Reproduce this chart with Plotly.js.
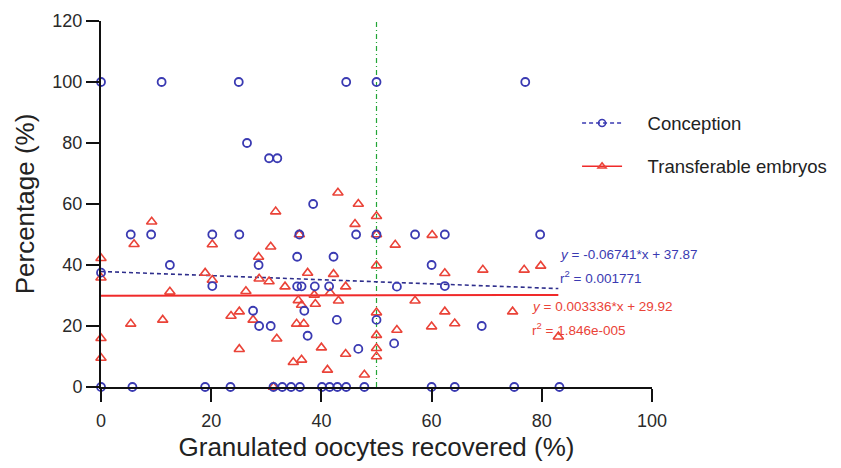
<!DOCTYPE html>
<html>
<head>
<meta charset="utf-8">
<script src="https://cdn.plot.ly/plotly-3.0.1.min.js"></script>
<style>html,body{margin:0;padding:0;background:#fff;}#chart{width:841px;height:468px;}</style>
</head>
<body>
<div id="chart"></div>
<script>
// Conception (%) vs granulated oocytes recovered (%)
var conceptionX = [0, 11, 25, 44.5, 50, 77,
  26.5, 30.5, 32, 38.5,
  5.4, 9.1, 20.2, 25.1, 36, 46.3, 50, 57, 62.4, 79.7,
  35.6, 42.2, 12.5, 28.6, 60, 0,
  20.2, 35.6, 36.4, 38.8, 41.4, 53.7, 62.4,
  27.6, 36.9, 42.8, 50, 28.7, 30.8, 69.1,
  37.5, 53.2, 46.7,
  0, 5.7, 18.9, 23.5, 31.3, 32.9, 34.5, 36.1, 40.1, 41.5, 42.9, 44.5, 47.8, 60, 64.2, 75, 83.2];
var conceptionY = [100, 100, 100, 100, 100, 100,
  80, 75, 75, 60,
  50, 50, 50, 50, 50, 50, 50, 50, 50, 50,
  42.7, 42.7, 40, 40, 40, 37.5,
  33.1, 33, 33, 33, 33, 32.9, 33.1,
  25, 25, 22, 22, 20, 20, 20,
  16.8, 14.3, 12.5,
  0, 0, 0, 0, 0, 0, 0, 0, 0, 0, 0, 0, 0, 0, 0, 0, 0];

// Transferable embryos (%) vs granulated oocytes recovered (%)
var embryosX = [0, 0, 0, 0,
  5.4, 6, 9.2, 11.2, 12.5,
  18.9, 20.2, 20.2,
  23.6, 25.1, 25.1, 26.3, 27.6,
  28.6, 28.7, 30.5, 30.8, 31.7, 31.9, 31.3,
  33.4, 34.9, 35.5, 35.8, 36, 36.4, 36.4, 36.8,
  37.5, 38.7, 38.9, 40, 41.1, 41.6,
  42.2, 43, 43.1, 44.4, 44.4, 46.1, 46.7, 47.8,
  50, 50, 50, 50, 50, 50, 50,
  53.4, 53.7, 57, 60.1, 60, 62.4, 62.4, 64.2,
  69.3, 74.7, 76.8, 79.8, 83];
var embryosY = [42.2, 35.8, 16, 9.5,
  20.7, 46.8, 54.2, 22, 31.2,
  37.4, 46.7, 35.1,
  23.3, 24.7, 12.4, 31.4, 22,
  42.6, 35.5, 34.6, 46, 57.5, 15.8, 0,
  32.9, 8.1, 20.7, 28.4, 50, 26.9, 8.9, 20.7,
  37.4, 30.2, 27.2, 12.9, 5.6, 30.8,
  37, 63.7, 28.3, 32.9, 10.8, 53.4, 60, 4,
  56, 50, 39.8, 24.4, 17, 12.7, 10,
  46.6, 18.7, 28.3, 49.8, 19.8, 37.3, 24.7, 20.8,
  38.4, 24.7, 38.4, 39.7, 16.5];

// Linear fits
var fitRange = [0, 83];
var conceptionSlope = -0.06741, conceptionIntercept = 37.87;
var embryosSlope = 0.003336, embryosIntercept = 29.92;
var conceptionEq = ["<i>y</i> = -0.06741*x + 37.87", "r<sup>2</sup> = 0.001771"];
var embryosEq = ["<i>y</i> = 0.003336*x + 29.92", "r<sup>2</sup> = 1.846e-005"];

// Reference line
var refX = 50;
var yRange = [0, 120];
var xTicks = [0, 20, 40, 60, 80, 100];
var yTicks = [0, 20, 40, 60, 80, 100, 120];

var BLUE = '#3a3ab2', RED = '#ea4338', FIT_BLUE = '#2e2e8c', FIT_RED = '#f02a2a', GREEN = '#22a536';
var FONT = 'Liberation Sans, Arial, sans-serif';

function fitY(m, b) { return fitRange.map(function (x) { return m * x + b; }); }

var traces = [
  { x: [refX, refX], y: yRange, mode: 'lines', line: { color: GREEN, width: 1.2, dash: '5px,3px,1px,3px' }, showlegend: false, hoverinfo: 'skip' },
  { x: fitRange, y: fitY(embryosSlope, embryosIntercept), mode: 'lines', line: { color: FIT_RED, width: 2 }, showlegend: false },
  { x: fitRange, y: fitY(conceptionSlope, conceptionIntercept), mode: 'lines', line: { color: FIT_BLUE, width: 1.6, dash: '4px,3px' }, showlegend: false },
  { x: embryosX, y: embryosY, mode: 'markers', cliponaxis: false, showlegend: false,
    marker: { symbol: 'triangle-up-open', size: 9, color: RED, line: { width: 1.6, color: RED } } },
  { x: conceptionX, y: conceptionY, mode: 'markers', cliponaxis: false, showlegend: false,
    marker: { symbol: 'circle-open', size: 8, color: BLUE, line: { width: 1.8, color: BLUE } } },
  { x: [null], y: [null], name: '\u00a0\u00a0\u00a0\u00a0Conception', mode: 'lines+markers', legend: 'legend',
    line: { color: BLUE, width: 1.6, dash: '4px,3px' }, marker: { symbol: 'circle-open', size: 7, color: BLUE, line: { width: 1.6 } } },
  { x: [null], y: [null], name: '\u00a0\u00a0\u00a0\u00a0Transferable embryos', mode: 'lines+markers', legend: 'legend2',
    line: { color: FIT_RED, width: 1.6 }, marker: { symbol: 'triangle-up-open', size: 7, color: RED, line: { width: 1.6 } } }
];

function ann(x, y, text, color) {
  return { x: x, y: y, xref: 'x', yref: 'y', text: text, showarrow: false, xanchor: 'left', yanchor: 'middle',
    font: { family: FONT, size: 13.5, color: color } };
}

var layout = {
  width: 841, height: 468,
  margin: { l: 101, r: 189, t: 21, b: 81, autoexpand: false },
  paper_bgcolor: '#fff', plot_bgcolor: '#fff',
  font: { family: FONT, color: '#222' },
  showlegend: true,
  xaxis: {
    range: [0, 100], tickvals: xTicks, ticktext: xTicks.map(String),
    showgrid: false, zeroline: false, showline: true, linecolor: '#111', linewidth: 2,
    ticks: 'outside', ticklen: 13, tickwidth: 2, tickcolor: '#111', ticklabelstandoff: 3,
    tickfont: { family: FONT, size: 18, color: '#2a2a2a' },
    title: { text: 'Granulated oocytes recovered (%)', font: { family: FONT, size: 26, color: '#222' }, standoff: 8 }
  },
  yaxis: {
    range: yRange, tickvals: yTicks, ticktext: yTicks.map(String),
    showgrid: false, zeroline: false, showline: true, linecolor: '#111', linewidth: 2,
    ticks: 'outside', ticklen: 13, tickwidth: 2, tickcolor: '#111',
    tickfont: { family: FONT, size: 18, color: '#2a2a2a' },
    title: { text: 'Percentage (%)', font: { family: FONT, size: 26, color: '#222' }, standoff: 10 }
  },
  legend: { x: 0.864, y: 0.72, xanchor: 'left', yanchor: 'middle', bgcolor: 'rgba(0,0,0,0)', itemwidth: 40,
    font: { family: FONT, size: 18.5, color: '#222' } },
  legend2: { x: 0.864, y: 0.602, xanchor: 'left', yanchor: 'middle', bgcolor: 'rgba(0,0,0,0)', itemwidth: 40,
    font: { family: FONT, size: 18.5, color: '#222' } },
  annotations: [
    ann(82.9, 43.3, conceptionEq[0], BLUE),
    ann(82.9, 36.1, conceptionEq[1], BLUE),
    ann(77.9, 26.3, embryosEq[0], RED),
    ann(77.9, 19.1, embryosEq[1], RED)
  ]
};

Plotly.newPlot('chart', traces, layout, { displayModeBar: false, staticPlot: true });
</script>
</body>
</html>
